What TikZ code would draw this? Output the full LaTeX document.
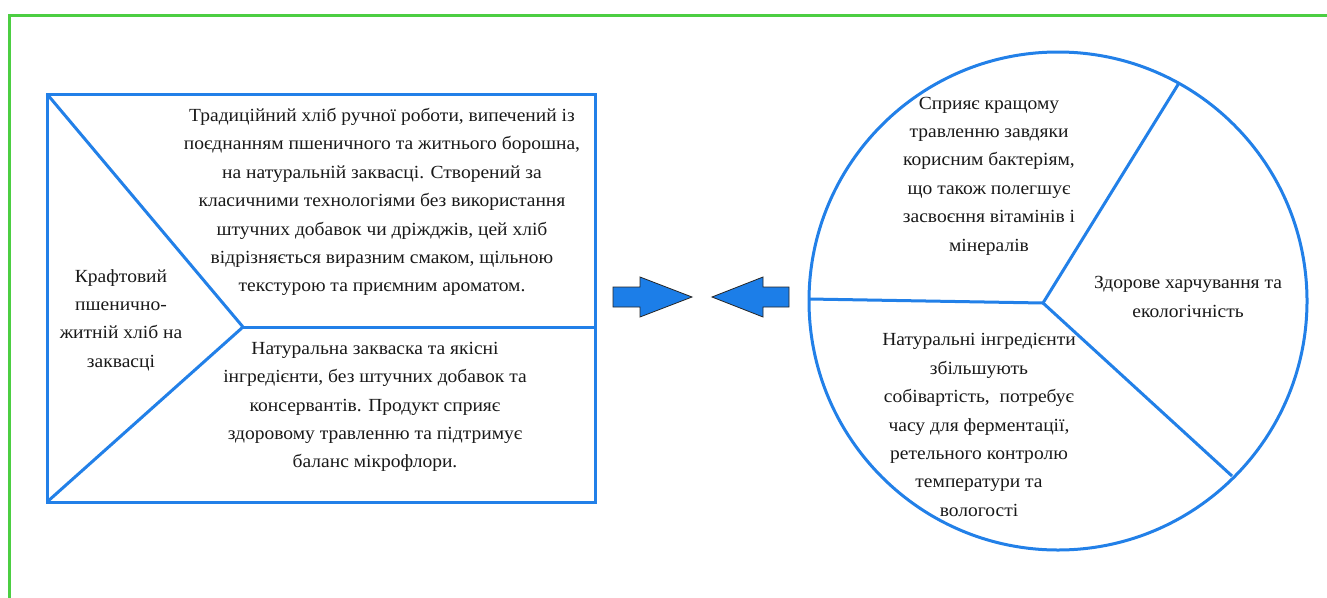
\documentclass[tikz,border=0pt]{standalone}
\usepackage{fontspec}
\setmainfont{Liberation Serif}
\newfontfamily\cyrserif[FakeStretch=1.055]{Liberation Serif}
\definecolor{frameg}{RGB}{76,206,66}
\definecolor{lineb}{RGB}{34,128,232}
\definecolor{arrowb}{RGB}{28,126,232}
\definecolor{txt}{RGB}{25,25,25}
\tikzset{
  shape line/.style={draw=lineb, line width=3pt, line join=miter},
  lbl/.style={align=center, text=txt, inner sep=0pt, font=\cyrserif\fontsize{18.5}{28.4}\selectfont},
  bigarrow/.style={fill=arrowb, draw=black!85, line width=0.8pt, line join=miter}
}
\begin{document}
\begin{tikzpicture}[x=1pt,y=-1pt]
\useasboundingbox (0,0) rectangle (1327,597);
\clip (0,0) rectangle (1327,597);
\fill[white] (0,0) rectangle (1327,597);
% green frame
\draw[frameg, line width=3pt] (1340,15) -- (9,15) -- (9,610);
% left block
\coordinate (tl) at (47,94);
\coordinate (tr) at (595,94);
\coordinate (br) at (595,502);
\coordinate (bl) at (47,502);
\coordinate (v) at (243,327);
\coordinate (mr) at (595,327);
\draw[shape line] (tl) rectangle (br);
\draw[shape line] (tl) -- (v) -- (bl);
\draw[shape line] (v) -- (mr);
\node[lbl] (title) at (121,320) {Крафтовий\\пшенично-\\житній хліб на\\заквасці};
\node[lbl] (desc) at (382,202) {Традиційний хліб ручної роботи, випечений із\\поєднанням пшеничного та житнього борошна,\\на натуральній заквасці. Створений за\\класичними технологіями без використання\\штучних добавок чи дріжджів, цей хліб\\відрізняється виразним смаком, щільною\\текстурою та приємним ароматом.};
\node[lbl] (adv) at (375,407) {Натуральна закваска та якісні\\інгредієнти, без штучних добавок та\\консервантів. Продукт сприяє\\здоровому травленню та підтримує\\баланс мікрофлори.};
% arrows
\draw[bigarrow] (613,287) -- (640,287) -- (640,277) -- (692,297) -- (640,317) -- (640,307) -- (613,307) -- cycle;
\draw[bigarrow] (789,287) -- (763,287) -- (763,277) -- (712,297) -- (763,317) -- (763,307) -- (789,307) -- cycle;
% pie
\coordinate (cc) at (1058,301);
\coordinate (pc) at (1043,303);
\draw[shape line] (cc) circle[radius=249];
\draw[shape line] (809,299) -- (pc) -- (1179,83);
\draw[shape line] (pc) -- (1232,476);
\node[lbl] (p1) at (989,176) {Сприяє кращому\\травленню завдяки\\корисним бактеріям,\\що також полегшує\\засвоєння вітамінів і\\мінералів};
\node[lbl] (p2) at (1188,297) {Здорове харчування та\\екологічність};
\node[lbl] (p3) at (979,425) {Натуральні інгредієнти\\збільшують\\собівартість,~ потребує\\часу для ферментації,\\ретельного контролю\\температури та\\вологості};
\end{tikzpicture}
\end{document}
